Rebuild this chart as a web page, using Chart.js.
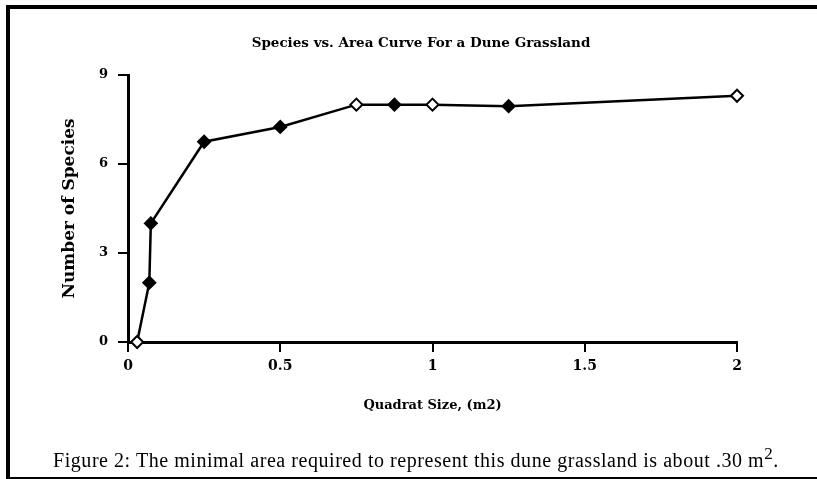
<!DOCTYPE html>
<html>
<head>
<meta charset="utf-8">
<script src="https://cdn.jsdelivr.net/npm/chart.js@4.4.1/dist/chart.umd.min.js"></script>
<style>
  html, body { margin: 0; padding: 0; background: #fff; }
  #wrap { position: relative; width: 817px; height: 479px; overflow: hidden; }
  #frame {
    position: absolute; left: 6px; top: 5px; width: 811px; height: 474px;
    box-sizing: border-box;
    border-top: 4px solid #000; border-left: 4px solid #000; border-bottom: 2px solid #000;
  }
  #chart { position: absolute; left: 0; top: 0; }
  #caption {
    position: absolute; left: 53px; top: 450px; white-space: nowrap;
    font-family: "Liberation Serif", "Times New Roman", serif;
    font-size: 20px; line-height: 20px; letter-spacing: 0.55px; color: #000;
  }
  #caption sup { font-size: 17px; line-height: 0; vertical-align: 8px; }
</style>
</head>
<body>
<div id="wrap">
  <div id="frame"></div>
  <canvas id="chart" width="817" height="479"></canvas>
  <div id="caption">Figure 2: The minimal area required to represent this dune grassland is about .30 m<sup>2</sup>.</div>
</div>
<script>
var quadratSize = [0.03, 0.07, 0.075, 0.25, 0.5, 0.75, 0.875, 1, 1.25, 2];
var speciesCount = [0, 2, 4, 6.75, 7.25, 8, 8, 8, 7.95, 8.3];
var hollowMarker = [true, false, false, false, false, true, false, true, false, true];
var xTickValues = [0, 0.5, 1, 1.5, 2];
var yTickValues = [0, 3, 6, 9];
var chartTitle = "Species vs. Area Curve For a Dune Grassland";

var INK = "#000000";
var PAPER = "#ffffff";
var SERIF = "'DejaVu Serif', 'Liberation Serif', serif";

var points = quadratSize.map(function (x, i) {
  return { x: x, y: speciesCount[i] };
});

function fixedTicks(values) {
  return function (scale) {
    scale.ticks = values.map(function (v) { return { value: v }; });
  };
}

// O título original não fica centrado na área do gráfico: desenho à parte.
var offsetTitle = {
  id: "offsetTitle",
  afterDraw: function (chart) {
    var ctx = chart.ctx;
    ctx.save();
    ctx.fillStyle = INK;
    ctx.font = "bold 13.5px " + SERIF;
    ctx.textAlign = "center";
    ctx.textBaseline = "middle";
    ctx.fillText(chartTitle, 421, 43);
    ctx.restore();
  }
};

new Chart(document.getElementById("chart"), {
  type: "scatter",
  data: {
    datasets: [{
      data: points,
      showLine: true,
      borderColor: INK,
      borderWidth: 2.5,
      tension: 0,
      pointStyle: "rectRot",
      pointRadius: 6,
      pointHoverRadius: 6,
      pointBorderWidth: 2,
      pointBorderColor: INK,
      pointBackgroundColor: hollowMarker.map(function (h) { return h ? PAPER : INK; }),
      clip: false
    }]
  },
  plugins: [offsetTitle],
  options: {
    responsive: false,
    animation: false,
    events: [],
    layout: { padding: { left: 50, right: 80, top: 75, bottom: 57 } },
    plugins: {
      legend: { display: false },
      tooltip: { enabled: false },
      title: { display: false }
    },
    scales: {
      x: {
        type: "linear",
        min: 0,
        max: 2,
        afterBuildTicks: fixedTicks(xTickValues),
        afterFit: function (s) { s.height = 80; },
        border: { display: true, color: INK, width: 3 },
        grid: { drawOnChartArea: false, drawTicks: true, tickLength: 10, color: INK, lineWidth: 2 },
        ticks: {
          color: INK,
          padding: 6,
          font: { family: SERIF, size: 14, weight: "bold" },
          callback: function (v) { return String(v); }
        },
        title: {
          display: true,
          text: "Quadrat Size, (m2)",
          color: INK,
          font: { family: SERIF, size: 13, weight: "bold" },
          padding: { top: 0, bottom: 8.6 }
        }
      },
      y: {
        min: 0,
        max: 9,
        afterBuildTicks: fixedTicks(yTickValues),
        afterFit: function (s) { s.width = 78; },
        border: { display: true, color: INK, width: 3 },
        grid: { drawOnChartArea: false, drawTicks: true, tickLength: 10, color: INK, lineWidth: 2 },
        ticks: { color: INK, padding: 10, font: { family: SERIF, size: 13, weight: "bold" } },
        title: {
          display: true,
          text: "Number of Species",
          color: INK,
          font: { family: SERIF, size: 17, weight: "bold" },
          padding: { top: 9, bottom: 0 }
        }
      }
    }
  }
});
</script>
</body>
</html>
